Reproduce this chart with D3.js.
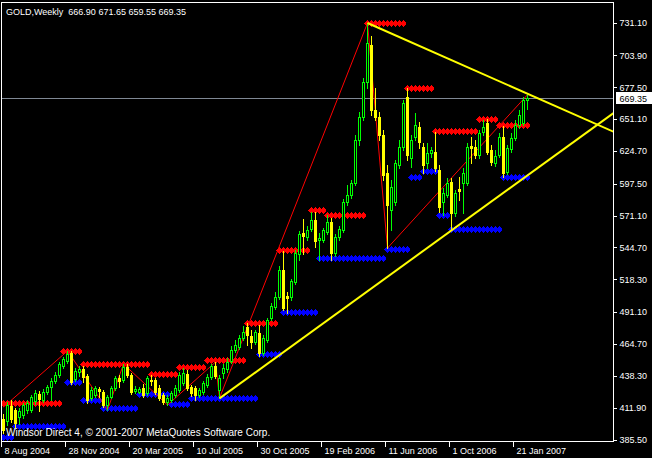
<!DOCTYPE html>
<html>
<head>
<meta charset="utf-8">
<script src="https://d3js.org/d3.v7.min.js"></script>
<style>
  body { margin: 0; background: #000; }
  svg { display: block; }
  text { font-family: "Liberation Sans", Arial, sans-serif; }
</style>
</head>
<body>
<script>
var svgWidth = 652;
var svgHeight = 458;

// plot frame (the price scale sits to the right of it)
var frame = { left: 1.5, top: 2.5, right: 613.5, bottom: 441.5 };

// Weekly GOLD bars, first bar = week of 8 Aug 2004
var opens = [
  402.9, 401.2, 413.7, 410.4, 404.6, 406.2, 410.4, 410.4, 417.8, 423.6,
  418.6, 425.3, 429.4, 434.4, 439.4, 446.8, 451.0, 457.6, 436.0, 441.8,
  444.3, 438.5, 420.3, 422.8, 427.8, 425.3, 414.5, 421.1, 428.6, 436.9,
  435.2, 446.0, 439.4, 426.1, 425.3, 428.6, 424.4, 435.2, 435.2, 428.6,
  422.8, 417.0, 418.6, 422.8, 426.9, 432.7, 440.2, 429.4, 428.6, 422.8,
  425.3, 431.1, 437.7, 446.8, 426.9, 441.0, 444.3, 451.0, 460.1, 462.6,
  470.0, 479.1, 471.7, 466.7, 474.2, 457.6, 468.4, 486.6, 495.7, 504.0,
  526.4, 504.8, 504.0, 516.4, 539.7, 557.0, 553.7, 560.4, 567.8, 551.3,
  551.3, 557.9, 566.2, 540.5, 553.7, 559.5, 582.7, 588.6, 598.5, 634.1,
  653.2, 682.2, 712.9, 659.0, 653.2, 638.3, 606.8, 576.1, 582.7, 613.4,
  628.3, 669.8, 619.2, 636.6, 644.9, 628.3, 615.1, 623.4, 624.2, 609.3,
  582.7, 588.6, 599.3, 573.6, 593.5, 598.5, 598.5, 629.2, 628.3, 621.7,
  640.8, 648.2, 625.8, 615.1, 621.7, 636.6, 607.6, 626.7, 635.8, 646.6,
  648.2, 666.90
];
var highs = [
  407.0, 417.0, 418.6, 412.0, 412.0, 416.2, 418.6, 422.8, 426.9, 426.1,
  427.8, 431.1, 436.9, 441.8, 450.1, 454.3, 459.3, 459.3, 445.2, 446.8,
  446.8, 440.2, 429.4, 430.3, 429.4, 426.9, 422.8, 430.3, 438.5, 439.4,
  448.5, 448.5, 441.0, 430.3, 429.4, 431.9, 438.5, 439.4, 436.9, 431.1,
  424.4, 422.8, 426.1, 431.1, 441.8, 445.2, 443.5, 431.1, 430.3, 428.6,
  434.4, 440.2, 448.5, 450.1, 439.4, 448.5, 453.5, 463.4, 468.4, 472.5,
  480.0, 482.5, 476.7, 476.7, 480.8, 472.5, 486.6, 499.0, 508.2, 529.7,
  542.1, 508.2, 518.9, 543.0, 558.7, 568.7, 562.9, 574.5, 574.5, 557.0,
  561.2, 572.0, 569.5, 556.2, 562.9, 585.2, 596.8, 601.0, 638.3, 657.3,
  685.5, 731.1, 720.3, 677.2, 657.3, 642.4, 613.4, 601.0, 617.6, 634.1,
  667.3, 677.2, 638.3, 656.5, 649.0, 631.6, 631.6, 628.3, 640.8, 613.4,
  594.3, 602.6, 602.6, 592.7, 603.5, 610.9, 631.6, 636.6, 634.1, 642.4,
  650.7, 651.5, 630.0, 625.8, 639.9, 645.7, 630.0, 639.9, 650.7, 659.0,
  669.8, 671.65
];
var lows = [
  391.3, 397.9, 400.4, 395.4, 398.7, 403.7, 407.9, 408.7, 415.3, 409.5,
  417.0, 423.6, 418.6, 432.7, 437.7, 445.2, 449.3, 431.9, 434.4, 438.5,
  433.6, 416.2, 418.6, 421.1, 421.1, 412.8, 410.4, 420.3, 426.9, 429.4,
  433.6, 437.7, 423.6, 424.4, 424.4, 421.1, 422.8, 431.1, 423.6, 418.6,
  415.3, 414.5, 417.0, 421.1, 425.3, 431.1, 426.9, 421.9, 418.6, 421.1,
  423.6, 429.4, 436.0, 436.9, 420.3, 436.9, 441.8, 449.3, 458.4, 460.9,
  468.4, 464.2, 461.7, 465.0, 455.1, 455.9, 466.7, 484.9, 494.1, 502.4,
  493.2, 490.7, 501.5, 514.8, 534.7, 539.7, 551.3, 558.7, 545.4, 534.7,
  549.6, 556.2, 534.7, 538.0, 551.3, 557.9, 580.3, 586.1, 596.8, 630.0,
  650.7, 677.2, 654.8, 650.7, 634.1, 601.0, 544.6, 559.5, 580.3, 610.9,
  625.8, 617.6, 611.8, 634.1, 627.5, 606.8, 610.9, 620.0, 608.4, 574.5,
  572.0, 586.9, 559.5, 571.2, 584.4, 573.6, 596.8, 615.1, 619.2, 619.2,
  638.3, 622.5, 613.4, 612.6, 620.0, 603.5, 605.9, 624.2, 634.1, 644.1,
  646.6, 659.55
];
var closes = [
  393.8, 414.5, 402.9, 399.6, 409.5, 414.5, 416.2, 421.1, 424.4, 419.5,
  425.3, 429.4, 434.4, 439.4, 448.5, 452.6, 456.8, 433.6, 442.7, 444.3,
  437.7, 418.6, 426.9, 428.6, 426.1, 414.5, 421.1, 428.6, 436.9, 434.4,
  446.0, 439.4, 425.3, 427.8, 427.8, 422.8, 436.9, 434.4, 425.3, 420.3,
  417.0, 420.3, 424.4, 428.6, 439.4, 441.0, 428.6, 424.4, 422.8, 426.9,
  432.7, 437.7, 446.8, 438.5, 436.9, 445.2, 450.1, 460.1, 464.2, 470.0,
  475.0, 472.5, 466.7, 475.0, 457.6, 470.0, 484.9, 496.5, 504.0, 526.4,
  494.9, 503.2, 517.3, 540.5, 556.2, 554.5, 559.5, 567.8, 550.4, 552.9,
  559.5, 566.2, 540.5, 553.7, 560.4, 582.7, 588.6, 598.5, 634.1, 653.2,
  682.2, 714.5, 659.0, 653.2, 638.3, 605.1, 580.3, 595.2, 615.1, 628.3,
  664.8, 621.7, 634.1, 646.6, 632.5, 613.4, 623.4, 625.8, 610.9, 578.6,
  590.2, 598.5, 573.6, 590.2, 591.9, 606.8, 628.3, 627.5, 621.7, 639.9,
  644.9, 624.2, 615.9, 620.9, 636.6, 606.8, 627.5, 635.8, 646.6, 654.8,
  667.3, 669.35
];

var dateTicks = [0, 16, 32, 48, 64, 80, 96, 112, 128];
var dateLabels = ["8 Aug 2004", "28 Nov 2004", "20 Mar 2005", "10 Jul 2005", "30 Oct 2005",
                  "19 Feb 2006", "11 Jun 2006", "1 Oct 2006", "21 Jan 2007"];
var priceTicks = [731.10, 703.90, 677.50, 651.10, 624.70, 597.50, 571.10,
                  544.70, 518.30, 491.10, 464.70, 438.30, 411.90, 385.50];

// diamond rows: [first bar, last bar, level]
var resistance = [
  [0, 14, 416.2], [15, 19, 459.3], [20, 36, 448.5], [37, 43, 440.2], [44, 50, 446.0],
  [51, 60, 451.8], [61, 68, 482.5], [69, 76, 543.0], [77, 80, 576.1], [81, 90, 572.0],
  [91, 100, 731.1], [101, 107, 677.2], [108, 118, 641.6], [119, 123, 651.5], [124, 131, 646.6]
];
var support = [
  [0, 2, 388.0], [3, 15, 397.1], [16, 19, 433.6], [20, 24, 418.6], [25, 33, 412.0],
  [34, 41, 423.6], [42, 46, 415.3], [47, 63, 420.3], [64, 69, 456.8], [70, 78, 491.6],
  [79, 95, 536.4], [96, 101, 543.8], [102, 104, 603.5], [105, 108, 608.4], [109, 111, 572.0],
  [112, 124, 560.4], [125, 131, 603.5]
];

// zigzag turning points: [bar, price]
var zigzag = [[0, 412.8], [16, 459.3], [26, 410.4], [30, 448.5], [41, 414.5],
              [53, 450.1], [54, 420.3], [91, 731.1], [96, 544.6], [131, 671.65]];

// trend lines: two anchors each, drawn as rays to the right edge
var upperTrend = [[91, 731.1], [131, 672.5]];
var lowerTrend = [[54, 420.0], [112, 559.2]];

var lastPrice = 669.35;
var title = "GOLD,Weekly  666.90 671.65 659.55 669.35";
var copyright = "Windsor Direct 4, \u00a9 2001-2007 MetaQuotes Software Corp.";

// Step 1: svg + scales
var svg = d3.select("body")
    .append("svg")
    .attr("width", svgWidth)
    .attr("height", svgHeight);

svg.append("rect")
    .attr("width", svgWidth)
    .attr("height", svgHeight)
    .attr("fill", "#000");

// one bar every 4px
var xScale = d3.scaleLinear()
    .domain([0, 152])
    .range([3.5, 3.5 + 4 * 152]);

var yScale = d3.scaleLinear()
    .domain([385.5, 731.1])
    .range([440, 23]);

var lastIndex = (frame.right - 3.5) / 4;

svg.append("clipPath")
    .attr("id", "plotClip")
    .append("rect")
    .attr("x", frame.left + 0.5)
    .attr("y", frame.top + 0.5)
    .attr("width", frame.right - frame.left - 1)
    .attr("height", frame.bottom - frame.top - 1);

var plot = svg.append("g").attr("clip-path", "url(#plotClip)");

// Step 2: bid line
plot.append("line")
    .attr("x1", frame.left)
    .attr("x2", frame.right)
    .attr("y1", Math.round(yScale(lastPrice)) + 0.5)
    .attr("y2", Math.round(yScale(lastPrice)) + 0.5)
    .attr("stroke", "#7f8894")
    .attr("stroke-width", 1);

// Step 3: diamond rows
function expand(segs) {
    var pts = [];
    segs.forEach(function(s) {
        d3.range(s[0], s[1] + 1).forEach(function(i) { pts.push([i, s[2]]); });
    });
    return pts;
}
var diamond = "M0,-3.5L3,0L0,3.5L-3,0Z";

plot.append("g").attr("shape-rendering", "crispEdges")
    .selectAll("path")
    .data(expand(resistance))
    .enter()
    .append("path")
    .attr("d", diamond)
    .attr("transform", d => `translate(${xScale(d[0])}, ${Math.round(yScale(d[1])) + 0.5})`)
    .attr("fill", "#ff0000");

plot.append("g").attr("shape-rendering", "crispEdges")
    .selectAll("path")
    .data(expand(support))
    .enter()
    .append("path")
    .attr("d", diamond)
    .attr("transform", d => `translate(${xScale(d[0])}, ${Math.round(yScale(d[1])) + 0.5})`)
    .attr("fill", "#0000ff");

// Step 4: zigzag
plot.append("path")
    .datum(zigzag)
    .attr("d", d3.line().x(d => xScale(d[0])).y(d => yScale(d[1])))
    .attr("fill", "none")
    .attr("stroke", "#ff0000")
    .attr("stroke-width", 1);

// Step 5: candles
var bars = d3.range(opens.length).map(function(i) {
    return { i: i, o: opens[i], h: highs[i], l: lows[i], c: closes[i] };
});
var bull = "#00ff00", bear = "#ffff00";

var candles = plot.append("g").attr("shape-rendering", "crispEdges");

candles.selectAll("line")
    .data(bars)
    .enter()
    .append("line")
    .attr("x1", d => xScale(d.i))
    .attr("x2", d => xScale(d.i))
    .attr("y1", d => Math.round(yScale(d.h)))
    .attr("y2", d => Math.round(yScale(d.l)) + 1)
    .attr("stroke", d => d.c >= d.o ? bull : bear)
    .attr("stroke-width", 1);

candles.selectAll("rect.up")
    .data(bars.filter(d => d.c >= d.o))
    .enter()
    .append("rect")
    .attr("class", "up")
    .attr("x", d => xScale(d.i) - 1)
    .attr("y", d => Math.round(yScale(d.c)) + 0.5)
    .attr("width", 2)
    .attr("height", d => Math.max(Math.round(yScale(d.o)) - Math.round(yScale(d.c)), 0))
    .attr("fill", "#000")
    .attr("stroke", bull)
    .attr("stroke-width", 1);

candles.selectAll("rect.down")
    .data(bars.filter(d => d.c < d.o))
    .enter()
    .append("rect")
    .attr("class", "down")
    .attr("x", d => xScale(d.i) - 1.5)
    .attr("y", d => Math.round(yScale(d.o)))
    .attr("width", 3)
    .attr("height", d => Math.max(Math.round(yScale(d.c)) - Math.round(yScale(d.o)) + 1, 1))
    .attr("fill", bear);

// Step 6: trend lines
function ray(pts) {
    var slope = (pts[1][1] - pts[0][1]) / (pts[1][0] - pts[0][0]);
    return [pts[0], [lastIndex, pts[0][1] + slope * (lastIndex - pts[0][0])]];
}
[upperTrend, lowerTrend].forEach(function(t) {
    plot.append("path")
        .datum(ray(t))
        .attr("d", d3.line().x(d => xScale(d[0])).y(d => yScale(d[1])))
        .attr("fill", "none")
        .attr("stroke", "#ffff00")
        .attr("stroke-width", 2);
});

// Step 7: frame and axes
svg.append("rect")
    .attr("x", frame.left)
    .attr("y", frame.top)
    .attr("width", frame.right - frame.left)
    .attr("height", frame.bottom - frame.top)
    .attr("fill", "none")
    .attr("stroke", "#fff")
    .attr("stroke-width", 1);

var rightAxis = d3.axisRight(yScale)
    .tickValues(priceTicks)
    .tickFormat(d3.format(".2f"))
    .tickSize(3)
    .tickPadding(3)
    .offset(0);

var yAxisG = svg.append("g")
    .attr("transform", `translate(${frame.right}, 0)`)
    .attr("shape-rendering", "crispEdges")
    .call(rightAxis);
yAxisG.select(".domain").remove();
yAxisG.selectAll("line").attr("stroke", "#fff");
yAxisG.selectAll("text")
    .attr("fill", "#fff")
    .attr("font-size", "9px")
    .attr("font-family", "Liberation Sans, Arial, sans-serif");

var bottomAxis = d3.axisBottom(xScale)
    .tickValues(dateTicks)
    .tickFormat((d, k) => dateLabels[k])
    .tickSize(5)
    .offset(0);

var xAxisG = svg.append("g")
    .attr("transform", `translate(-2, ${frame.bottom})`)
    .attr("shape-rendering", "crispEdges")
    .call(bottomAxis);
xAxisG.select(".domain").remove();
xAxisG.selectAll("line").attr("stroke", "#fff");
xAxisG.selectAll("text")
    .attr("fill", "#fff")
    .attr("font-size", "9px")
    .attr("font-family", "Liberation Sans, Arial, sans-serif")
    .attr("text-anchor", "start")
    .attr("x", 3)
    .attr("y", 12.5)
    .attr("dy", null);

// current price marker
var py = Math.round(yScale(lastPrice));
svg.append("rect")
    .attr("x", frame.right + 2.5)
    .attr("y", py - 6)
    .attr("width", 36)
    .attr("height", 12)
    .attr("fill", "#fff");
svg.append("text")
    .attr("x", frame.right + 6)
    .attr("y", py + 3.5)
    .attr("fill", "#000")
    .attr("font-size", "9px")
    .text(d3.format(".2f")(lastPrice));

// Step 8: labels
svg.append("text")
    .attr("x", 6)
    .attr("y", 15)
    .attr("fill", "#fff")
    .attr("font-size", "9px")
    .style("white-space", "pre")
    .text(title);

svg.append("text")
    .attr("x", 6)
    .attr("y", 436)
    .attr("fill", "#fff")
    .attr("font-size", "10px")
    .text(copyright);
</script>
</body>
</html>
